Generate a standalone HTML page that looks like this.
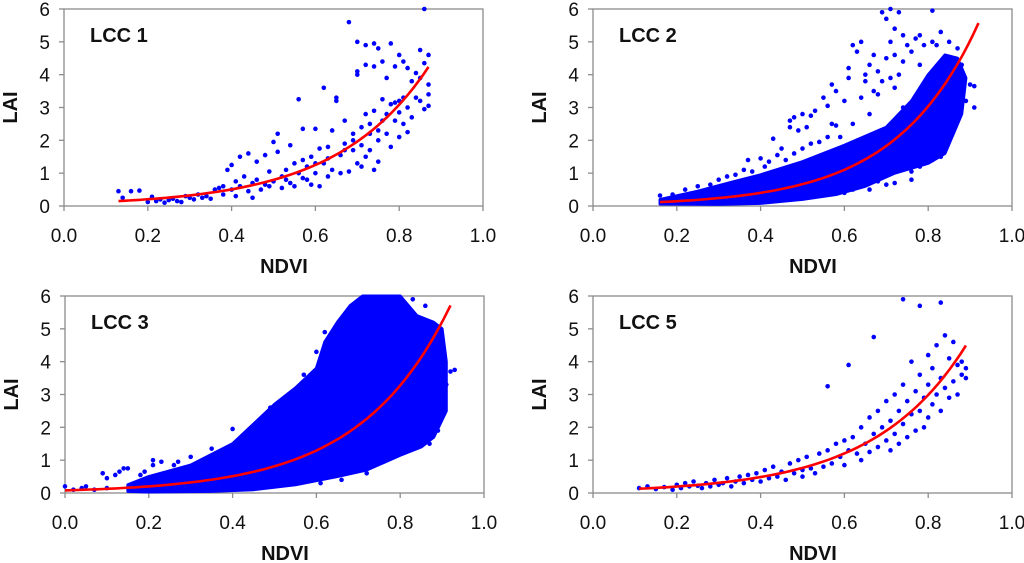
<!DOCTYPE html>
<html><head><meta charset="utf-8">
<style>
html,body{margin:0;padding:0;background:#fff;}
svg{display:block;font-family:"Liberation Sans",Arial,sans-serif;}
</style></head>
<body>
<svg id="chart" width="1024" height="563" viewBox="0 0 1024 563" xmlns="http://www.w3.org/2000/svg"></svg>
<script>
// ---- data ----
const xTicks = [0.0, 0.2, 0.4, 0.6, 0.8, 1.0];
const xTickLabels = ["0.0", "0.2", "0.4", "0.6", "0.8", "1.0"];
const yTicks = [0, 1, 2, 3, 4, 5, 6];
const yTickLabels = ["0", "1", "2", "3", "4", "5", "6"];
const panelTitles = ["LCC 1", "LCC 2", "LCC 3", "LCC 5"];

const fitA = [0.083, 0.053, 0.08, 0.079];
const fitB = [4.52, 5.06, 4.64, 4.54];
const fitStart = [0.13, 0.16, 0.0, 0.11];
const fitEnd = [0.87, 0.92, 0.92, 0.89];

const lcc1Points = [[0.13,0.45],[0.14,0.25],[0.16,0.45],[0.18,0.47],[0.20,0.12],[0.21,0.28],[0.22,0.15],[0.23,0.2],[0.24,0.1],[0.25,0.18],[0.26,0.22],[0.27,0.15],[0.28,0.12],[0.29,0.3],[0.30,0.25],[0.31,0.2],[0.32,0.35],[0.33,0.25],[0.34,0.3],[0.35,0.22],[0.36,0.5],[0.37,0.55],[0.38,0.35],[0.38,0.6],[0.39,1.1],[0.40,1.25],[0.40,0.5],[0.41,0.75],[0.41,0.3],[0.42,1.5],[0.42,0.6],[0.43,0.9],[0.44,1.6],[0.44,0.45],[0.45,0.7],[0.45,0.25],[0.46,1.35],[0.46,0.8],[0.47,0.5],[0.48,1.55],[0.48,0.65],[0.49,1.05],[0.49,0.6],[0.50,1.95],[0.50,0.75],[0.51,2.2],[0.51,1.65],[0.52,0.9],[0.52,0.55],[0.53,1.1],[0.53,0.8],[0.54,0.7],[0.54,1.85],[0.55,1.3],[0.55,0.6],[0.56,3.25],[0.56,1.0],[0.57,1.4],[0.57,0.85],[0.57,2.35],[0.58,0.8],[0.58,1.2],[0.59,0.65],[0.59,1.5],[0.60,2.35],[0.60,1.0],[0.60,1.3],[0.61,1.75],[0.61,0.6],[0.62,3.6],[0.62,1.3],[0.63,0.9],[0.63,1.45],[0.63,1.8],[0.64,2.3],[0.64,1.1],[0.65,3.3],[0.65,3.2],[0.66,1.0],[0.66,1.55],[0.67,2.6],[0.67,1.7],[0.67,1.9],[0.68,5.6],[0.68,1.05],[0.69,2.2],[0.69,2.0],[0.69,1.7],[0.70,5.0],[0.70,4.0],[0.70,4.1],[0.70,1.3],[0.71,2.4],[0.71,1.85],[0.71,1.2],[0.72,4.9],[0.72,4.3],[0.72,2.8],[0.72,1.5],[0.73,2.2],[0.73,2.5],[0.73,1.7],[0.74,4.95],[0.74,4.25],[0.74,2.9],[0.74,1.1],[0.75,4.8],[0.75,2.0],[0.75,2.3],[0.75,1.35],[0.76,3.25],[0.76,2.6],[0.76,4.4],[0.77,3.9],[0.77,2.8],[0.77,2.2],[0.78,4.95],[0.78,3.1],[0.78,1.8],[0.79,4.25],[0.79,3.15],[0.79,2.6],[0.80,4.6],[0.80,3.2],[0.80,2.85],[0.80,2.1],[0.81,4.4],[0.81,3.3],[0.81,2.5],[0.82,4.2],[0.82,3.0],[0.82,2.25],[0.83,3.8],[0.83,2.7],[0.84,4.05],[0.84,3.3],[0.85,4.75],[0.85,3.9],[0.85,3.2],[0.86,6.0],[0.86,4.35],[0.86,2.95],[0.87,4.6],[0.87,3.4],[0.87,3.05],[0.87,3.7]];

const lcc2Band = [[0.16,0.2],[0.25,0.45],[0.33,0.72],[0.4,0.95],[0.5,1.35],[0.6,1.85],[0.7,2.4],[0.76,3.2],[0.8,4.0],[0.84,4.6],[0.87,4.5],[0.89,3.9],[0.88,2.8],[0.84,1.6],[0.8,1.3],[0.72,1.0],[0.65,0.6],[0.58,0.35],[0.5,0.2],[0.4,0.08],[0.3,0.05],[0.16,0.06]];
const lcc2Points = [[0.16,0.32],[0.19,0.35],[0.22,0.5],[0.25,0.6],[0.28,0.65],[0.3,0.8],[0.32,0.9],[0.34,0.95],[0.36,1.1],[0.37,1.4],[0.38,1.05],[0.4,1.45],[0.41,1.2],[0.42,1.35],[0.43,2.05],[0.44,1.55],[0.45,1.75],[0.46,1.4],[0.47,2.4],[0.47,2.6],[0.48,2.7],[0.48,1.6],[0.49,2.3],[0.5,2.8],[0.5,1.75],[0.51,2.4],[0.52,2.75],[0.52,1.9],[0.53,2.9],[0.54,1.95],[0.55,3.3],[0.56,3.05],[0.56,2.1],[0.57,3.7],[0.57,2.5],[0.58,3.5],[0.58,2.45],[0.59,2.1],[0.6,3.2],[0.61,3.9],[0.61,4.2],[0.62,4.9],[0.62,2.5],[0.63,4.7],[0.64,5.0],[0.64,3.3],[0.65,4.0],[0.65,3.8],[0.66,4.3],[0.66,2.8],[0.67,3.5],[0.67,4.6],[0.68,3.4],[0.68,4.1],[0.69,5.9],[0.69,3.8],[0.7,5.7],[0.7,4.5],[0.7,0.65],[0.71,6.0],[0.71,5.0],[0.71,3.9],[0.72,5.4],[0.72,4.6],[0.72,3.6],[0.72,0.7],[0.73,5.9],[0.73,4.0],[0.74,5.2],[0.74,4.4],[0.74,3.0],[0.75,4.9],[0.76,4.7],[0.76,0.8],[0.77,5.1],[0.78,5.2],[0.78,4.3],[0.79,4.9],[0.81,5.95],[0.81,5.0],[0.82,4.9],[0.83,5.3],[0.85,5.0],[0.86,3.2],[0.87,4.8],[0.88,3.6],[0.88,4.3],[0.89,3.2],[0.9,3.7],[0.91,3.0],[0.91,3.65],[0.86,2.5],[0.82,2.4],[0.83,1.5],[0.81,1.4],[0.78,1.2],[0.76,1.05],[0.68,0.75],[0.66,0.5],[0.6,0.4],[0.62,0.5],[0.53,0.6],[0.36,0.55]];

const lcc3Band = [[0.15,0.25],[0.2,0.5],[0.3,0.85],[0.4,1.5],[0.45,2.1],[0.5,2.7],[0.55,3.2],[0.6,3.8],[0.62,4.6],[0.65,5.2],[0.68,5.7],[0.71,6.0],[0.8,6.0],[0.84,5.4],[0.88,5.2],[0.9,5.0],[0.91,4.0],[0.91,2.5],[0.88,1.7],[0.85,1.4],[0.8,1.15],[0.72,0.7],[0.65,0.5],[0.55,0.25],[0.45,0.1],[0.35,0.05],[0.2,0.03],[0.15,0.05]];
const lcc3Points = [[0.0,0.2],[0.02,0.1],[0.04,0.15],[0.05,0.2],[0.07,0.1],[0.09,0.6],[0.1,0.45],[0.1,0.15],[0.12,0.55],[0.13,0.65],[0.14,0.75],[0.15,0.75],[0.18,0.55],[0.19,0.65],[0.21,0.85],[0.21,1.0],[0.23,0.95],[0.26,0.85],[0.27,0.95],[0.3,1.1],[0.35,1.35],[0.4,1.95],[0.49,2.6],[0.57,3.6],[0.6,4.3],[0.62,4.9],[0.72,0.6],[0.69,0.7],[0.7,0.7],[0.66,0.4],[0.61,0.3],[0.92,3.7],[0.91,3.3],[0.9,2.9],[0.89,2.1],[0.88,1.8],[0.87,1.5],[0.86,5.7],[0.83,5.9],[0.89,1.9],[0.93,3.75]];

const lcc5Points = [[0.11,0.15],[0.13,0.2],[0.15,0.12],[0.17,0.18],[0.19,0.1],[0.2,0.25],[0.21,0.15],[0.22,0.3],[0.23,0.2],[0.24,0.35],[0.25,0.22],[0.26,0.15],[0.27,0.3],[0.28,0.2],[0.29,0.4],[0.3,0.25],[0.31,0.3],[0.32,0.45],[0.33,0.2],[0.34,0.35],[0.35,0.5],[0.36,0.3],[0.37,0.55],[0.38,0.4],[0.39,0.6],[0.4,0.35],[0.41,0.7],[0.42,0.45],[0.43,0.8],[0.44,0.5],[0.45,0.65],[0.46,0.4],[0.47,0.9],[0.48,0.6],[0.49,1.0],[0.5,0.7],[0.5,0.5],[0.51,1.1],[0.52,0.75],[0.53,0.6],[0.54,1.2],[0.55,0.8],[0.56,3.25],[0.56,1.3],[0.57,0.9],[0.58,1.5],[0.59,1.1],[0.6,1.6],[0.6,0.85],[0.61,3.9],[0.61,1.3],[0.62,1.7],[0.63,1.2],[0.64,2.0],[0.64,1.0],[0.65,1.5],[0.66,2.3],[0.66,1.25],[0.67,4.75],[0.67,1.8],[0.68,1.4],[0.68,2.5],[0.69,2.0],[0.7,1.6],[0.7,2.8],[0.71,2.2],[0.71,1.3],[0.72,3.0],[0.72,1.8],[0.73,2.5],[0.73,1.5],[0.74,5.9],[0.74,3.3],[0.74,2.1],[0.75,2.8],[0.75,1.7],[0.76,4.0],[0.76,2.4],[0.77,3.1],[0.77,1.9],[0.78,5.7],[0.78,3.6],[0.78,2.5],[0.79,2.9],[0.79,2.0],[0.8,4.2],[0.8,3.3],[0.8,2.3],[0.81,3.8],[0.81,2.7],[0.82,4.5],[0.82,3.0],[0.83,5.8],[0.83,3.5],[0.83,2.5],[0.84,4.8],[0.84,3.2],[0.85,4.1],[0.85,2.9],[0.86,4.6],[0.86,3.4],[0.87,3.9],[0.87,3.0],[0.88,3.6],[0.88,4.0],[0.89,3.8],[0.89,3.5]];

const panelPoints = [lcc1Points, lcc2Points, lcc3Points, lcc5Points];
const panelBands = [null, lcc2Band, lcc3Band, null];

// ---- layout ----
const layout = [
  {x0:64, x1:483, yT:9, yB:206},
  {x0:593, x1:1012, yT:9, yB:206},
  {x0:65, x1:484, yT:296, yB:493},
  {x0:593, x1:1012, yT:296, yB:493}
];
const NS = "http://www.w3.org/2000/svg";
const svg = document.getElementById('chart');
function mk(tag, attrs, parent){
  const e = document.createElementNS(NS, tag);
  for (const k in attrs) e.setAttribute(k, attrs[k]);
  (parent||svg).appendChild(e);
  return e;
}

layout.forEach((L, i) => {
  const g = mk('g', {});
  
  
  const sx = v => L.x0 + (L.x1 - L.x0) * v;
  const sy = v => L.yB - (L.yB - L.yT) * v / 6;

  const frame = mk('rect', {x:L.x0, y:L.yT, width:L.x1-L.x0, height:L.yB-L.yT, fill:'none', stroke:'#8c8c8c', 'stroke-width':1.3}, g);
  
  

  xTicks.forEach((t, k) => {
    mk('line', {x1:sx(t), x2:sx(t), y1:L.yB, y2:L.yB+5, stroke:'#8c8c8c', 'stroke-width':1.3}, g);
    const tx = mk('text', {x:sx(t), y:L.yB+36, 'text-anchor':'middle', 'font-size':19, fill:'#111'}, g);
    tx.textContent = xTickLabels[k];
    
    
  });
  yTicks.forEach((t, k) => {
    mk('line', {x1:L.x0-5, x2:L.x0, y1:sy(t), y2:sy(t), stroke:'#8c8c8c', 'stroke-width':1.3}, g);
    const ty = mk('text', {x:L.x0-14, y:sy(t)+7, 'text-anchor':'end', 'font-size':19, fill:'#111'}, g);
    ty.textContent = yTickLabels[k];
    
    
  });

  const xt = mk('text', {x:sx(0.525), y:L.yB+67, 'text-anchor':'middle', 'font-size':20, 'font-weight':'bold', fill:'#111'}, g);
  xt.textContent = 'NDVI';
  
  
  const cy = (L.yT + L.yB) / 2;
  const yt = mk('text', {x:L.x0-47, y:cy, 'text-anchor':'middle', 'font-size':20, 'font-weight':'bold', fill:'#111', transform:`rotate(-90 ${L.x0-47} ${cy})`}, g);
  yt.textContent = 'LAI';
  
  

  const pt = mk('text', {x:L.x0+26, y:L.yT+33, 'font-size':20, 'font-weight':'bold', fill:'#111'}, g);
  pt.textContent = panelTitles[i];
  
  

  const band = panelBands[i];
  if (band) {
    const poly = mk('polygon', {points: band.map(p => sx(p[0]) + ',' + sy(p[1])).join(' '), fill:'#0000ff', stroke:'#0000ff', 'stroke-width':3, 'stroke-linejoin':'round'}, g);
    
    
  }
  panelPoints[i].forEach(p => {
    const c = mk('circle', {cx:sx(p[0]), cy:sy(p[1]), r:2.3, fill:'#0000ff'}, g);
    
    
  });
  let d = '';
  const n = 60;
  for (let k = 0; k <= n; k++) {
    const v = fitStart[i] + (fitEnd[i] - fitStart[i]) * k / n;
    const lai = fitA[i] * Math.exp(fitB[i] * v);
    d += (k ? 'L' : 'M') + sx(v).toFixed(1) + ',' + sy(lai).toFixed(1);
  }
  const fc = mk('path', {d:d, fill:'none', stroke:'#ff0000', 'stroke-width':2.6}, g);
  
  
});
</script>
</body></html>
